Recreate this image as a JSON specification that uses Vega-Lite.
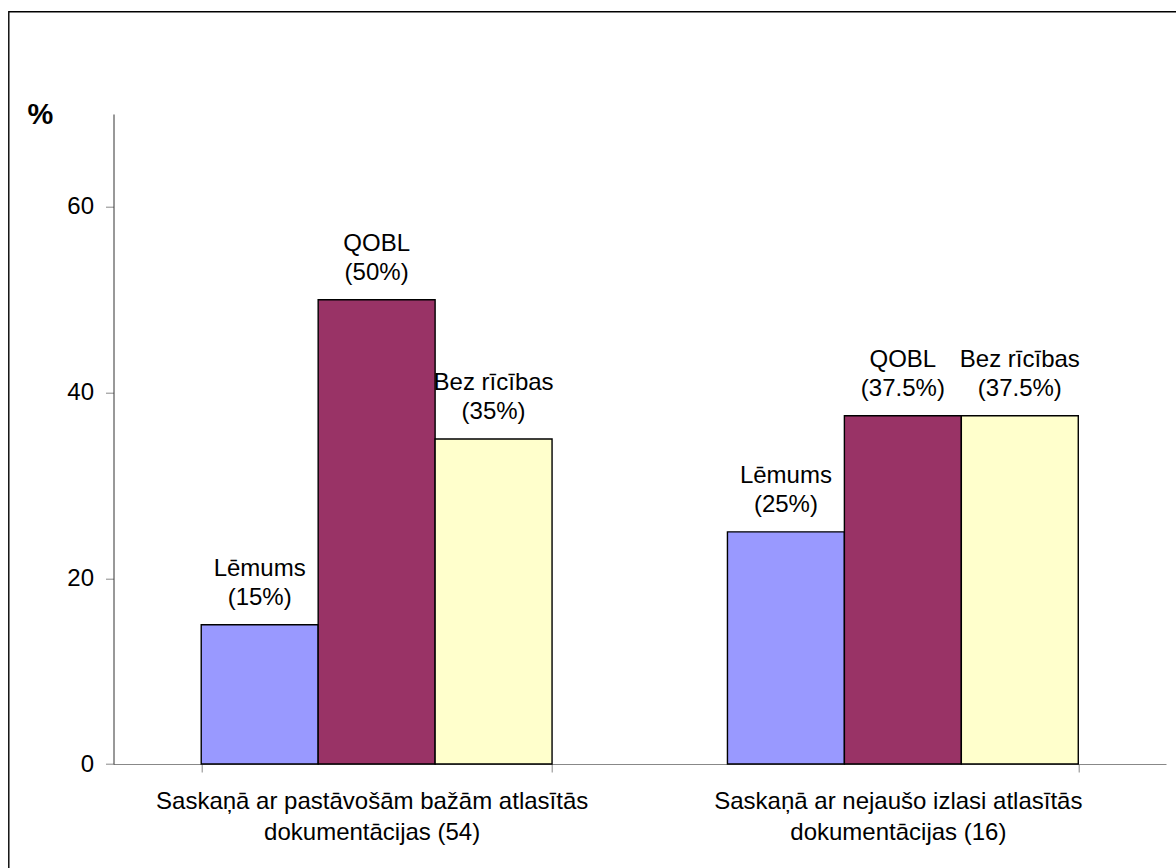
{
  "$schema": "https://vega.github.io/schema/vega-lite/v6.json",
  "width": 1180.3,
  "height": 869.3,
  "autosize": {"type": "none"},
  "padding": {"left": 8.7, "top": 11.7, "right": -13, "bottom": -13},
  "background": "white",
  "config": {
    "view": {"stroke": "#000", "strokeWidth": 1.4},
    "font": "Liberation Sans",
    "axis": {"grid": false}
  },
  "data": {
    "values": [
      {"group": "Saskaņā ar pastāvošām bažām atlasītās dokumentācijas (54)", "type": "Lēmums", "value": 15, "label": "Lēmums\n(15%)"},
      {"group": "Saskaņā ar pastāvošām bažām atlasītās dokumentācijas (54)", "type": "QOBL", "value": 50, "label": "QOBL\n(50%)"},
      {"group": "Saskaņā ar pastāvošām bažām atlasītās dokumentācijas (54)", "type": "Bez rīcības", "value": 35, "label": "Bez rīcības\n(35%)"},
      {"group": "Saskaņā ar nejaušo izlasi atlasītās dokumentācijas (16)", "type": "Lēmums", "value": 25, "label": "Lēmums\n(25%)"},
      {"group": "Saskaņā ar nejaušo izlasi atlasītās dokumentācijas (16)", "type": "QOBL", "value": 37.5, "label": "QOBL\n(37.5%)"},
      {"group": "Saskaņā ar nejaušo izlasi atlasītās dokumentācijas (16)", "type": "Bez rīcības", "value": 37.5, "label": "Bez rīcības\n(37.5%)"}
    ]
  },
  "encoding": {
    "x": {
      "field": "group",
      "type": "nominal",
      "sort": null,
      "scale": {"range": [104.8, 1157.3], "paddingInner": 0.3333, "paddingOuter": 0.1667},
      "axis": {
        "title": null,
        "tickBand": "extent",
        "domainColor": "#888",
        "tickColor": "#888",
        "tickSize": 8,
        "labelFontSize": 24,
        "labelColor": "#000",
        "labelPadding": 17,
        "labelAngle": 0,
        "labelLineHeight": 31,
        "labelLimit": 0,
        "labelOffset": -5,
        "labelExpr": "split(replace(datum.label, 'atlasītās ', 'atlasītās|'), '|')",
        "offset": -117
      }
    },
    "xOffset": {"field": "type", "type": "nominal", "sort": null, "scale": {"paddingInner": 0, "paddingOuter": 0}},
    "y": {
      "field": "value",
      "type": "quantitative",
      "scale": {"domain": [0, 70], "range": [752.3, 102.3], "nice": false},
      "axis": {
        "title": "%",
        "titleAngle": 0,
        "titleFontSize": 29,
        "titleFontWeight": "bold",
        "titleColor": "#000",
        "titleX": -73.5,
        "titleY": 111.3,
        "titleAlign": "center",
        "titleBaseline": "alphabetic",
        "values": [0, 20, 40, 60],
        "domainColor": "#333",
        "tickColor": "#888",
        "tickSize": 8,
        "labelFontSize": 24,
        "labelColor": "#000",
        "labelPadding": 12,
        "offset": -104.8
      }
    }
  },
  "layer": [
    {
      "mark": {"type": "bar", "stroke": "#000", "strokeWidth": 1.4},
      "encoding": {
        "color": {
          "field": "type",
          "type": "nominal",
          "scale": {"domain": ["Lēmums", "QOBL", "Bez rīcības"], "range": ["#9999FF", "#993366", "#FFFFCC"]},
          "legend": null
        }
      }
    },
    {
      "mark": {"type": "text", "baseline": "bottom", "dy": -44, "fontSize": 24, "lineBreak": "\n", "lineHeight": 29, "color": "#000"},
      "encoding": {"text": {"field": "label"}}
    }
  ]
}
